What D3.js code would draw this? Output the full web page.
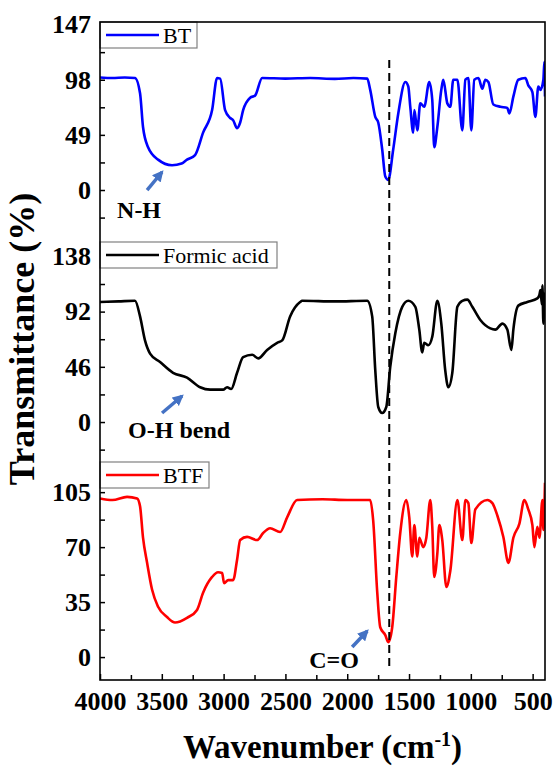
<!DOCTYPE html>
<html><head><meta charset="utf-8">
<script src="https://cdn.jsdelivr.net/npm/d3@7"></script>
<style>
html,body{margin:0;padding:0;background:#fff;}
svg{display:block;}
text{font-family:"Liberation Serif","Times New Roman",serif;}
</style></head>
<body>
<script>
// ---------- DATA ----------
const xTicks = [4000, 3500, 3000, 2500, 2000, 1500, 1000, 500];
const xMinorTicks = [3750, 3250, 2750, 2250, 1750, 1250, 750];

const seriesNames = ["BT", "Formic acid", "BTF"];
const seriesColors = ["#0000ff", "#000000", "#ff0000"];

const btWn = [4000,3900,3800,3717,3676,3652,3611,3530,3417,3340,3296,3231,3166,3093,3053,3028,2988,2947,2923,2891,2866,2842,2785,2745,2688,2500,2300,2100,1950,1838,1814,1773,1749,1717,1692,1668,1628,1587,1530,1506,1490,1466,1457,1433,1409,1377,1336,1312,1296,1271,1239,1223,1190,1166,1142,1109,1069,1044,1020,996,972,939,907,883,858,818,761,705,688,656,616,559,535,502,478,454,437,413,405,400];
const btT  = [100,99.5,100,99.6,86,56,38,27,22,23.5,27,31,51,71,99.5,99,71,64,62,55,60,71,82,84,99.5,99,99.5,98.8,99.5,99,89,65,60,36,12,9,36,68,96,92,74,51,71,53,77,74,96,80,38,56,89,98,77,74,98,98,53,98,99.5,53,98,99.5,90,98,96,76,74,73,68,83,98,99.5,93,87,65,92,89,98,114,83];

const faWn = [4000,3850,3717,3676,3636,3595,3514,3409,3296,3190,3109,3004,2972,2939,2891,2842,2769,2720,2648,2567,2526,2462,2381,2365,2100,1838,1798,1773,1749,1717,1684,1652,1611,1555,1506,1449,1417,1393,1377,1344,1312,1271,1239,1207,1182,1150,1109,1069,1028,988,923,842,802,745,705,672,656,616,543,462,445,437,425,421,413,405,400];
const faT  = [100,100.5,101,88,68,57,50,41,37,29,27,27,29,27.5,41,54,56,53,60,66,68,88,100,101,100.5,101,88,43,12.5,7.5,12.5,46,74,96,101,96,77,58,66,64,71,101,82,43,29,41,96,101,102,96,85,78,77,82,77,60,77,97,100,103,106,110,98,114,82,107,102];

const btfWn = [4000,3900,3781,3700,3676,3652,3619,3579,3530,3458,3393,3296,3215,3166,3093,3045,3012,2996,2963,2923,2891,2866,2810,2729,2680,2624,2543,2486,2405,2200,2000,1814,1790,1757,1733,1692,1668,1636,1603,1571,1522,1498,1474,1457,1433,1417,1385,1360,1328,1312,1296,1271,1255,1231,1198,1166,1109,1069,1044,1020,996,964,866,826,785,737,696,656,607,567,535,502,486,462,445,421,413,400];
const btfT  = [101,100,102,101,96,76,60,43,32,25.5,22,25,30,41,51,54,53.5,47,49,49,62,74.5,76.5,74.5,79,82,79.6,89,100,100.5,100,100,87,41,19,14,9.5,19,51,79,100,89,64,84,64,76,70,76,100,83,51,66,84,74.5,44.6,55,100,74.5,100,98,72.6,94,100,98,90,76.4,60,76,85,100,94,84,70,83,76,100,81,111];

const yMajorTicks = [[0,49,98,147],[0,46,92,138],[0,35,70,105]];
const yTickStep = [24.5, 23, 17.5];
const yDomains = [[-46.2,149.3],[-33.3,150],[-14.6,124.2]];

const peakWn = 1660; // dashed guide line
const annotations = [
  {panel:0, text:"N-H",      tx:3862, ty:-24.9, a0:[3619,0],   a1:[3498,16]},
  {panel:1, text:"O-H bend", tx:3773, ty:-13.3, a0:[3498,7.5], a1:[3336,21.7]},
  {panel:2, text:"C=O",      tx:2308, ty:-7,    a0:[1960,6.4], a1:[1838,16.6]}
];

// ---------- LAYOUT ----------
const W = 553, H = 767;
const L = 100, R = 545, T = 22, B = 680;
const panelTops = [22, 242, 462];
const panelBots = [242, 462, 680];

const svg = d3.select("body").append("svg").attr("width", W).attr("height", H);
svg.append("rect").attr("width", W).attr("height", H).attr("fill", "#fff");

const x = d3.scaleLinear().domain([4000, 400]).range([L, R]);

const data = [
  btWn.map((w,i)=>[w, btT[i]]),
  faWn.map((w,i)=>[w, faT[i]]),
  btfWn.map((w,i)=>[w, btfT[i]])
];

const ys = yDomains.map((d,i)=>d3.scaleLinear().domain(d).range([panelBots[i], panelTops[i]]));

svg.append("clipPath").attr("id","clip").append("rect")
  .attr("x", L).attr("y", T).attr("width", R-L).attr("height", B-T);

ys.forEach((y,i)=>{
  const line = d3.line().x(d=>x(d[0])).y(d=>y(d[1])).curve(d3.curveMonotoneX);
  svg.append("path").datum(data[i])
    .attr("d", line)
    .attr("fill","none")
    .attr("stroke", seriesColors[i])
    .attr("stroke-width", 2.6)
    .attr("stroke-linejoin","round")
    .attr("clip-path","url(#clip)");

  const ax = svg.append("g").attr("transform",`translate(${L},0)`)
    .call(d3.axisLeft(y).tickValues(yMajorTicks[i]).tickSize(-5).tickPadding(9).tickFormat(d3.format("d")));
  ax.select(".domain").remove();
  ax.selectAll("line").attr("stroke","#000").attr("stroke-width",1.5);
  ax.selectAll("text").attr("font-size",26).attr("font-weight","bold").attr("fill","#000")
    .style("font-family",'"Liberation Serif","Times New Roman",serif');

  const st = yTickStep[i];
  const minors = d3.range(-10, 10).map(k=>st*(2*k+1)).filter(v=>v>yDomains[i][0] && v<yDomains[i][1]);
  const mx = svg.append("g").attr("transform",`translate(${L},0)`)
    .call(d3.axisLeft(y).tickValues(minors).tickSize(-5).tickFormat(""));
  mx.select(".domain").remove();
  mx.selectAll("line").attr("stroke","#000").attr("stroke-width",1.5);

  const legW = [97, 177, 109][i];
  const lg = svg.append("g").attr("transform",`translate(${L},${panelTops[i]})`);
  lg.append("rect").attr("x",0).attr("y",0).attr("width",legW).attr("height",26)
    .attr("fill","#fff").attr("stroke","#808080").attr("stroke-width",1.2);
  lg.append("line").attr("x1",6).attr("x2",59).attr("y1",13).attr("y2",13)
    .attr("stroke",seriesColors[i]).attr("stroke-width",2.6);
  lg.append("text").attr("x",63).attr("y",21).attr("font-size",22).attr("fill","#000").text(seriesNames[i]);
});

const bx = svg.append("g").attr("transform",`translate(0,${B})`)
  .call(d3.axisBottom(x).tickValues(xTicks).tickSize(-6).tickPadding(12).tickFormat(d3.format("d")));
bx.select(".domain").remove();
bx.selectAll("line").attr("stroke","#000").attr("stroke-width",1.5);
bx.selectAll("text").attr("font-size",26).attr("font-weight","bold").attr("fill","#000")
  .style("font-family",'"Liberation Serif","Times New Roman",serif');
const bmx = svg.append("g").attr("transform",`translate(0,${B})`)
  .call(d3.axisBottom(x).tickValues(xMinorTicks).tickSize(-5).tickFormat(""));
bmx.select(".domain").remove();
bmx.selectAll("line").attr("stroke","#000").attr("stroke-width",1.5);

svg.append("rect").attr("x",L).attr("y",T).attr("width",R-L).attr("height",B-T)
  .attr("fill","none").attr("stroke","#000").attr("stroke-width",1.6);

svg.append("line")
  .attr("x1",x(peakWn)).attr("x2",x(peakWn))
  .attr("y1",ys[0](115.6)).attr("y2",ys[2](-6.4))
  .attr("stroke","#000").attr("stroke-width",2).attr("stroke-dasharray","8,5");

const defs = svg.append("defs");
defs.append("marker").attr("id","arr").attr("viewBox","0 0 10 10").attr("refX",8).attr("refY",5)
  .attr("markerWidth",3.2).attr("markerHeight",3.2).attr("orient","auto")
  .append("path").attr("d","M0,0 L10,5 L0,10 z").attr("fill","#4472c4");

annotations.forEach(a=>{
  const y = ys[a.panel];
  svg.append("line")
    .attr("x1",x(a.a0[0])).attr("y1",y(a.a0[1]))
    .attr("x2",x(a.a1[0])).attr("y2",y(a.a1[1]))
    .attr("stroke","#4472c4").attr("stroke-width",3.5)
    .attr("marker-end","url(#arr)");
  svg.append("text").attr("x",x(a.tx)).attr("y",y(a.ty))
    .attr("font-size",24).attr("font-weight","bold").attr("fill","#000").text(a.text);
});

svg.append("text").attr("x",(L+R)/2).attr("y",758).attr("text-anchor","middle")
  .attr("font-size",33).attr("font-weight","bold").attr("fill","#000")
  .html('Wavenumber (cm<tspan dy="-12" font-size="20">-1</tspan><tspan dy="12">)</tspan>');
svg.append("text").attr("transform","translate(34,339) rotate(-90)").attr("text-anchor","middle")
  .attr("font-size",36).attr("font-weight","bold").attr("fill","#000")
  .text("Transmittance (%)");
</script>
</body></html>
